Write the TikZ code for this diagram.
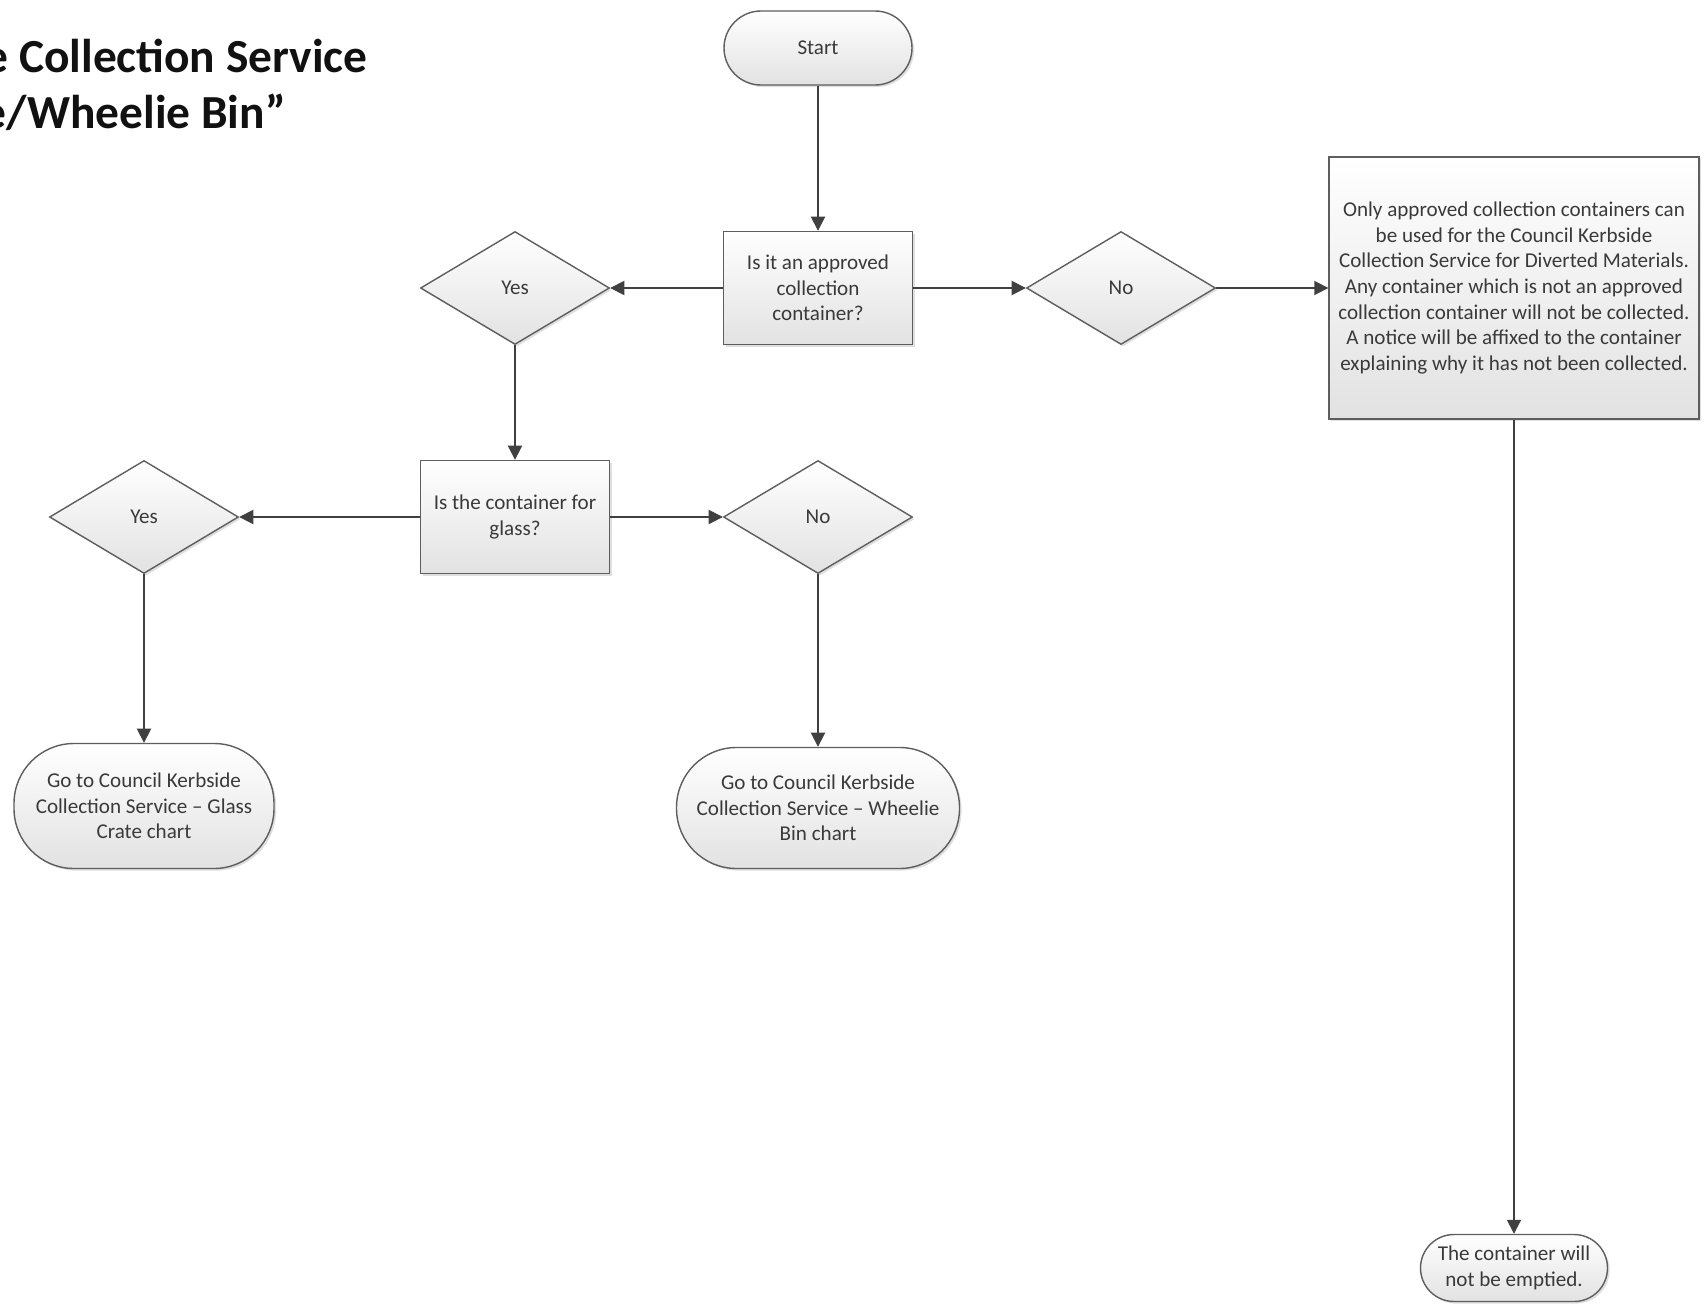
\documentclass[tikz,border=0pt]{standalone}
\usepackage{fontspec}
\setmainfont{Carlito}
\definecolor{boxline}{HTML}{5E5E5E}
\definecolor{flowline}{HTML}{404040}
\definecolor{boxtext}{HTML}{3A3A3A}
\definecolor{boxfill}{HTML}{E2E2E2}
\definecolor{titletext}{HTML}{111111}
\usetikzlibrary{shapes.geometric,arrows.meta,shadows}

\begin{document}
\begin{tikzpicture}[
  font=\fontsize{12}{14.6}\selectfont,
  box/.style={draw=boxline,line width=0.8pt,top color=white,bottom color=boxfill,
    drop shadow={shadow xshift=1.2pt,shadow yshift=-1.2pt,opacity=0.25},
    text=boxtext,align=center,inner sep=2pt},
  process/.style={box,rectangle,minimum width=3.78cm,minimum height=2.26cm},
  decision/.style={box,diamond,minimum width=3.78cm,minimum height=2.26cm},
  terminal/.style={box,rectangle,rounded corners=#1},
  heading/.style={anchor=base east,inner sep=0pt,text=titletext,
    font=\fontsize{27}{32}\selectfont\bfseries},
  flow/.style={draw=flowline,line width=1pt,-{Triangle[length=8pt,width=8pt]}}
]
\useasboundingbox (0,0) rectangle (34.14,-26.18);

% title, cut at the left edge
\node[heading] (title1) at (7.36,-1.44) {e Collection Service};
\node[heading] (title2) at (5.72,-2.56) {e/Wheelie Bin”};

\node[terminal=0.74cm,minimum width=3.76cm,minimum height=1.48cm] (start) at (16.36,-0.96) {Start};
\node[process] (q1) at (16.36,-5.76) {Is it an approved\\collection\\container?};
\node[decision] (yes1) at (10.30,-5.76) {Yes};
\node[decision] (no1) at (22.42,-5.76) {No};
\node[process,minimum width=7.4cm,minimum height=5.24cm] (notice) at (30.28,-5.76)
  {Only approved collection containers can\\be used for the Council Kerbside\\
   Collection Service for Diverted Materials.\\Any container which is not an approved\\
   collection container will not be collected.\\A notice will be affixed to the container\\
   explaining why it has not been collected.};
\node[process] (q2) at (10.30,-10.34) {Is the container for\\glass?};
\node[decision] (yes2) at (2.88,-10.34) {Yes};
\node[decision] (no2) at (16.36,-10.34) {No};
\node[terminal=1.2cm,minimum width=5.2cm,minimum height=2.5cm] (glass) at (2.88,-16.12)
  {Go to Council Kerbside\\Collection Service – Glass\\Crate chart};
\node[terminal=1.2cm,minimum width=5.66cm,minimum height=2.42cm] (wheelie) at (16.36,-16.16)
  {Go to Council Kerbside\\Collection Service – Wheelie\\Bin chart};
\node[terminal=0.67cm,minimum width=3.74cm,minimum height=1.34cm] (final) at (30.28,-25.36)
  {The container will\\not be emptied.};

\draw[flow] (start) -- (q1);
\draw[flow] (q1) -- (yes1);
\draw[flow] (q1) -- (no1);
\draw[flow] (no1) -- (notice);
\draw[flow] (yes1) -- (q2);
\draw[flow] (q2) -- (yes2);
\draw[flow] (q2) -- (no2);
\draw[flow] (yes2) -- (glass);
\draw[flow] (no2) -- (wheelie);
\draw[flow] (notice) -- (final);
\end{tikzpicture}
\end{document}
